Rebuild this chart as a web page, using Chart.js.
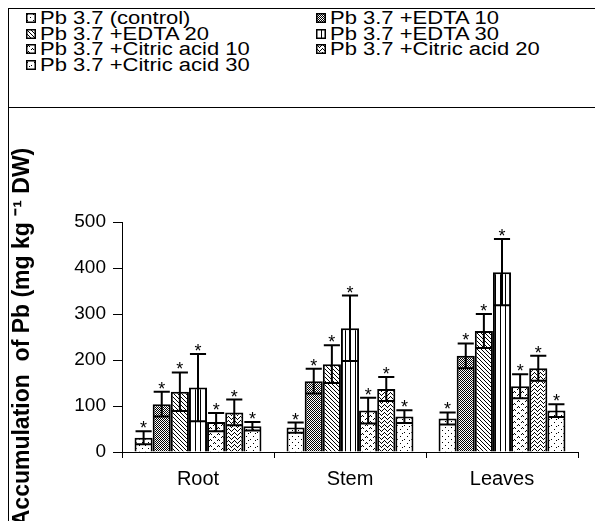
<!DOCTYPE html>
<html>
<head>
<meta charset="utf-8">
<script src="https://cdn.jsdelivr.net/npm/chart.js@4"></script>
<style>
  html, body { margin: 0; padding: 0; background: #fff; }
  body { width: 595px; height: 521px; position: relative; overflow: hidden; font-family: "Liberation Sans", Arial, sans-serif; }
  #frame { position: absolute; left: 8px; top: 8px; width: 640px; height: 600px; border-left: 1px solid #000; border-top: 1px solid #000; }
  #sep { position: absolute; left: 8px; top: 107px; width: 640px; border-top: 1px solid #000; }
  #chart { position: absolute; left: 0; top: 0; }
  .item { position: absolute; font-size: 22px; line-height: 16px; color: #000; white-space: nowrap; }
  .item span { display: inline-block; transform: scaleY(0.84); transform-origin: 50% 50%; }
  .item canvas { position: absolute; left: -14px; top: 3px; }
</style>
</head>
<body>
<div id="frame"></div>
<div id="sep"></div>
<div id="legend"></div>
<canvas id="chart" width="595" height="521"></canvas>
<script>
// plant parts
const categories = ["Root", "Stem", "Leaves"];

// treatment names (legend order)
const seriesNames = [
    "Pb 3.7 (control)",
    "Pb 3.7 +EDTA 10",
    "Pb 3.7 +EDTA 20",
    "Pb 3.7 +EDTA 30",
    "Pb 3.7 +Citric acid 10",
    "Pb 3.7 +Citric acid 20",
    "Pb 3.7 +Citric acid 30"
];

// mean Pb accumulation, mg kg-1 DW
const control = [31, 53, 73];
const edta10 = [104, 154, 209];
const edta20 = [131, 191, 263];
const edta30 = [140, 269, 391];
const citric10 = [65, 90, 143];
const citric20 = [86, 137, 182];
const citric30 = [56, 77, 90];

// error bars (+/-)
const controlErr = [14, 11, 13];
const edta10Err = [27, 27, 27];
const edta20Err = [42, 41, 37];
const edta30Err = [73, 71, 72];
const citric10Err = [20, 28, 26];
const citric20Err = [28, 26, 27];
const citric30Err = [9, 14, 14];

const yTicks = [0, 100, 200, 300, 400, 500];

const means = [control, edta10, edta20, edta30, citric10, citric20, citric30];
const errs = [controlErr, edta10Err, edta20Err, edta30Err, citric10Err, citric20Err, citric30Err];

// little bitmap tiles for the hatch fills
const tiles = [
    { w: 6, h: 6, px: [[1, 1], [4, 4]] },                                   // sparse dots
    { w: 2, h: 2, px: [[0, 0], [1, 1]] },                                   // dense checker
    { w: 4, h: 4, px: [[0, 0], [1, 1], [2, 2], [3, 3]] },                   // diagonal
    { w: 5, h: 1, px: [[0, 0]] },                                           // vertical lines
    { w: 8, h: 6, px: [[1, 2], [2, 1], [3, 2], [5, 5], [6, 4], [7, 5]] },   // small waves
    { w: 6, h: 4, px: [[0, 0], [1, 1], [2, 2], [3, 3], [4, 2], [5, 1]] },   // zigzag
    { w: 7, h: 7, px: [[1, 2], [5, 5], [3, 6]] }                            // dots
];

function tileCanvas(t) {
    const c = document.createElement("canvas");
    c.width = t.w; c.height = t.h;
    const g = c.getContext("2d");
    g.fillStyle = "#fff";
    g.fillRect(0, 0, t.w, t.h);
    g.fillStyle = "#000";
    t.px.forEach(p => g.fillRect(p[0], p[1], 1, 1));
    return c;
}

const canvas = document.getElementById("chart");
const ctx = canvas.getContext("2d");
const patterns = tiles.map(t => ctx.createPattern(tileCanvas(t), "repeat"));

// legend, two columns filled row by row
const legendBox = document.getElementById("legend");
const colX = [40, 330];
const rowY = [10, 26, 41, 57];
seriesNames.forEach((name, i) => {
    const el = document.createElement("div");
    el.className = "item";
    el.style.left = colX[i % 2] + "px";
    el.style.top = rowY[Math.floor(i / 2)] + "px";
    const sw = document.createElement("canvas");
    sw.width = 10; sw.height = 10;
    const g = sw.getContext("2d");
    g.fillStyle = g.createPattern(tileCanvas(tiles[i]), "repeat");
    g.fillRect(0, 0, 10, 10);
    g.strokeStyle = "#000";
    g.lineWidth = 1.5;
    g.strokeRect(0.75, 0.75, 8.5, 8.5);
    el.appendChild(sw);
    const txt = document.createElement("span");
    txt.textContent = name;
    el.appendChild(txt);
    legendBox.appendChild(el);
});

const errorBars = {
    id: "errorBars",
    afterDatasetsDraw(chart) {
        const c = chart.ctx;
        const y = chart.scales.y;
        c.save();
        c.strokeStyle = "#000";
        c.fillStyle = "#000";
        c.lineWidth = 2;
        c.font = "18px 'Liberation Sans', Arial, sans-serif";
        c.textAlign = "center";
        c.textBaseline = "alphabetic";
        chart.data.datasets.forEach((ds, i) => {
            chart.getDatasetMeta(i).data.forEach((bar, j) => {
                const m = means[i][j], e = errs[i][j];
                const top = y.getPixelForValue(m + e);
                const bot = y.getPixelForValue(m - e);
                const half = bar.width / 2 - 1;
                c.beginPath();
                c.moveTo(bar.x, top); c.lineTo(bar.x, bot);
                c.moveTo(bar.x - half, top); c.lineTo(bar.x + half, top);
                c.moveTo(bar.x - half, bot); c.lineTo(bar.x + half, bot);
                c.stroke();
                c.fillText("*", bar.x, top + 3);
            });
        });
        c.restore();
    }
};

new Chart(canvas, {
    type: "bar",
    data: {
        labels: categories,
        datasets: seriesNames.map((name, i) => ({
            label: name,
            data: means[i],
            backgroundColor: patterns[i],
            borderColor: "#000",
            borderWidth: 2,
            categoryPercentage: 0.835,
            barPercentage: 1.0
        }))
    },
    options: {
        responsive: false,
        animation: false,
        devicePixelRatio: 1,
        layout: { padding: { top: 222, right: 17, left: 0, bottom: 0 } },
        plugins: { legend: { display: false }, tooltip: { enabled: false } },
        scales: {
            x: {
                afterFit(s) { s.height = 69; },
                grid: { drawOnChartArea: false, tickLength: 6, color: "#000", lineWidth: 1 },
                border: { color: "#000", width: 1 },
                ticks: { color: "#000", padding: 9, font: { family: "'Liberation Sans', Arial", size: 20 } }
            },
            y: {
                min: 0,
                max: 500,
                afterFit(s) { s.width = 122; },
                afterBuildTicks(s) { s.ticks = yTicks.map(v => ({ value: v })); },
                grid: { drawOnChartArea: false, tickLength: 9, color: "#000", lineWidth: 1 },
                border: { color: "#000", width: 1 },
                ticks: { color: "#000", padding: 7, font: { family: "'Liberation Sans', Arial", size: 19 } },
                title: {
                    display: true,
                    text: "Accumulation  of Pb (mg kg \u207B\u00B9 DW)",
                    color: "#000",
                    font: { family: "'Liberation Sans', Arial", size: 23, weight: "bold" },
                    padding: { top: 9, bottom: 0 }
                }
            }
        }
    },
    plugins: [errorBars]
});
</script>
</body>
</html>
